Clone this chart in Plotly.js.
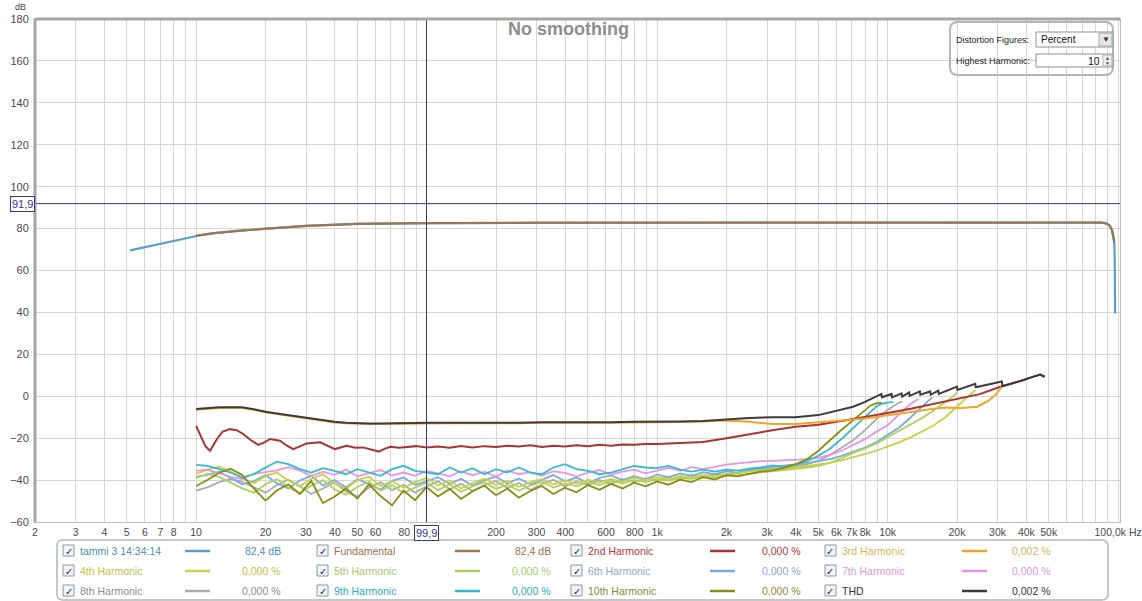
<!DOCTYPE html>
<html>
<head>
<meta charset="utf-8">
<script src="https://cdn.plot.ly/plotly-3.0.1.min.js"></script>
<style>
html,body{margin:0;padding:0;background:#fff;}
#chart{width:1142px;height:601px;}
</style>
</head>
<body>
<div id="chart"></div>
<script>
// ---------------- DATA ----------------
const F_LOW = [10,11.2,12.6,14.1,15.8,17.8,20,22.4,25.1,28.2,31.6,35.5,39.8,44.7,50.1,56.2,63.1,70.8,79.4,89.1,100,112,126,141,158,178,200,224,251,282,316,355,398,447,501,562,631,708,794,891,1000,1120,1260,1410,1580,1780,2000,2240,2510,2820,3160];

const H4_LOW = [-37.0,-35.0,-33.6,-35.8,-39.0,-41.5,-38.0,-36.4,-40.2,-43.0,-39.4,-37.2,-41.6,-44.2,-40.0,-38.4,-42.8,-40.4,-43.6,-41.0,-39.0,-42.6,-40.2,-44.0,-41.4,-39.4,-42.4,-40.6,-43.2,-41.0,-39.6,-42.0,-40.2,-41.8,-39.8,-41.2,-39.4,-40.8,-38.8,-40.0,-38.6,-39.4,-38.0,-38.8,-37.4,-38.2,-37.0,-36.8,-36.0,-35.6,-35.0];
const H5_LOW = [-39.0,-37.0,-38.5,-41.0,-43.8,-46.0,-42.0,-39.6,-43.4,-46.4,-42.6,-40.0,-44.4,-47.0,-43.2,-40.8,-45.0,-42.4,-46.2,-43.6,-41.2,-44.8,-42.0,-45.6,-43.0,-41.0,-44.2,-42.2,-45.0,-42.6,-40.8,-43.6,-41.6,-43.0,-41.0,-42.4,-40.4,-41.6,-40.0,-40.8,-39.6,-40.2,-39.0,-39.4,-38.4,-38.8,-38.0,-37.6,-37.0,-36.6,-36.0];
const H6_LOW = [-38.5,-37.5,-36.0,-38.8,-42.0,-40.5,-37.6,-41.5,-44.0,-40.2,-38.0,-42.6,-40.0,-43.5,-39.6,-41.8,-44.6,-40.4,-38.8,-42.2,-40.6,-38.6,-41.8,-39.4,-42.6,-40.0,-38.4,-41.6,-39.2,-42.0,-39.8,-37.6,-40.6,-38.8,-41.4,-39.0,-37.8,-40.0,-38.2,-39.6,-37.4,-38.6,-36.8,-38.0,-36.2,-37.2,-35.8,-36.6,-35.0,-34.4,-33.8];
const H7_LOW = [-35.6,-35.0,-36.8,-38.5,-39.5,-37.0,-36.2,-35.4,-33.8,-35.5,-38.0,-36.0,-37.5,-35.0,-38.2,-36.6,-35.2,-37.8,-36.4,-38.0,-35.6,-36.8,-38.2,-35.8,-37.6,-36.0,-38.4,-35.4,-37.2,-36.2,-38.0,-35.8,-36.6,-38.2,-36.4,-35.2,-37.4,-36.0,-35.0,-36.8,-35.4,-34.2,-35.6,-33.8,-34.8,-33.6,-32.6,-32.0,-31.4,-31.0,-30.8];
const H8_LOW = [-45.0,-43.5,-41.0,-39.5,-40.8,-43.6,-46.0,-42.4,-39.8,-43.0,-46.6,-44.0,-41.2,-45.4,-48.0,-43.6,-41.0,-44.8,-42.2,-46.0,-43.0,-40.6,-44.4,-41.8,-45.2,-42.6,-40.4,-43.8,-41.4,-44.6,-42.0,-39.8,-43.0,-40.6,-42.4,-40.0,-41.8,-39.6,-41.0,-39.2,-40.4,-38.4,-39.8,-37.6,-38.8,-37.0,-37.8,-36.4,-35.6,-35.0,-34.4];
const H9_LOW = [-32.7,-33.2,-34.8,-36.4,-38.8,-37.2,-34.0,-31.2,-32.4,-34.8,-36.4,-34.3,-35.6,-37.2,-34.8,-36.4,-38.0,-34.8,-33.2,-35.6,-36.4,-37.2,-34.0,-36.4,-34.3,-37.2,-34.8,-36.4,-34.0,-36.4,-37.2,-34.0,-32.4,-34.8,-35.6,-37.2,-36.4,-34.8,-33.2,-34.0,-34.3,-33.2,-35.0,-36.0,-35.0,-36.0,-35.0,-35.5,-34.5,-34.0,-33.0];
const H10_LOW = [-42.8,-40.0,-36.5,-34.6,-37.5,-44.0,-49.8,-45.0,-42.0,-46.6,-40.4,-51.0,-48.0,-44.0,-48.8,-42.0,-47.6,-52.0,-45.0,-49.6,-43.4,-47.8,-44.2,-49.0,-45.4,-42.6,-47.2,-44.0,-48.4,-45.2,-42.8,-46.6,-43.6,-45.8,-42.4,-44.6,-41.8,-44.0,-41.2,-43.0,-40.6,-42.2,-39.8,-41.0,-38.6,-39.8,-37.6,-38.2,-37.0,-36.0,-35.4];

const H4_TAIL_F = [3550,4000,4470,5010,5620,6310,7080,7940,8910,10000,11200,12600,14100,15800,17800,20000,22400,24000];
const H4_TAIL_V = [-34.6,-34.0,-33.4,-32.6,-31.8,-30.6,-29.2,-27.6,-26.0,-24.0,-22.0,-19.6,-17.0,-14.0,-10.0,-4.8,0.2,3.0];
const H5_TAIL_F = [3550,4000,4470,5010,5620,6310,7080,7940,8910,10000,11200,12600,14100,15800,17800,19400,20000];
const H5_TAIL_V = [-35.4,-34.8,-34.0,-33.2,-31.8,-29.6,-27.0,-25.0,-22.6,-19.6,-16.6,-13.6,-10.4,-6.9,-2.8,0.3,1.8];
const H6_TAIL_F = [3550,4000,4470,5010,5620,6310,7080,7940,8910,10000,11200,12600,14100,15600];
const H6_TAIL_V = [-33.2,-32.6,-31.8,-31.0,-30.0,-28.4,-26.6,-24.6,-22.0,-18.4,-15.0,-10.0,-5.0,-0.5];
const H7_TAIL_F = [3550,4000,4470,5010,5620,6310,7080,7940,8910,10000,11200,12600,13600];
const H7_TAIL_V = [-30.6,-30.2,-30.0,-29.4,-28.0,-26.0,-23.4,-20.6,-17.0,-13.8,-8.8,-3.6,-1.3];
const H8_TAIL_F = [3550,4000,4470,5010,5620,6310,7080,7940,8910,10000,11200,11600];
const H8_TAIL_V = [-34.2,-33.4,-32.4,-30.8,-28.0,-24.6,-21.0,-16.4,-11.0,-6.6,-3.0,-2.5];
const H9_TAIL_F = [3550,4000,4470,5010,5620,6310,7080,7940,8910,9440,10000,10600];
const H9_TAIL_V = [-33.6,-32.6,-31.0,-28.4,-25.0,-20.4,-15.2,-10.0,-5.0,-3.6,-3.0,-2.8];
const H10_TAIL_F = [3550,4000,4470,5010,5620,6310,7080,7940,8410,8910,9440];
const H10_TAIL_V = [-34.2,-32.4,-30.0,-26.0,-21.0,-16.0,-11.5,-6.8,-4.5,-3.4,-3.2];

const H2_F = [10,10.5,11,11.5,12.3,13,14,15,16,17.3,18.6,19.8,20.9,23.1,24.7,26.4,28.3,30.2,34.5,37,40,45,49,53,57,62,66,69.6,76,82,90,100,112,126,141,158,178,200,224,251,282,316,355,398,447,501,562,631,708,794,891,1000,1260,1580,2000,2510,3160,3980,5010,6310,7940,10000,12600,15800,20000,25100,31300,34000,38000,42000,45900,48000];
const H2_V = [-14.1,-19.0,-24.0,-26.0,-20.5,-17.0,-15.7,-16.2,-18.0,-21.0,-23.2,-22.0,-20.4,-21.2,-23.5,-25.2,-24.0,-22.5,-22.0,-23.5,-25.2,-23.6,-24.6,-24.4,-25.2,-26.4,-25.0,-24.1,-24.6,-24.4,-23.8,-24.4,-24.0,-24.6,-23.8,-24.4,-23.8,-24.2,-23.6,-24.0,-23.4,-24.2,-23.6,-24.0,-23.4,-23.8,-23.2,-23.6,-23.0,-23.2,-22.8,-22.8,-22.4,-21.8,-20.0,-18.0,-16.2,-14.6,-13.6,-11.8,-10.0,-8.0,-6.0,-3.8,-1.4,1.0,4.8,5.8,7.4,9.0,10.3,9.3];

const H3_F = [10,11.2,12.6,14.1,15.8,17.8,20,22.4,25.1,28.2,31.6,35.5,39.8,44.7,50.1,56.2,63.1,70.8,79.4,89.1,100,126,158,200,251,316,398,501,631,794,1000,1260,1580,2000,2510,3160,3980,5010,6310,7940,10000,12600,13800,15800,18000,20900,24500,27400,29500,31300];
const H3_V = [-6.4,-5.9,-5.6,-5.5,-5.6,-6.5,-7.7,-8.5,-9.3,-10.2,-11.1,-11.9,-12.5,-12.9,-13.2,-13.3,-13.3,-13.3,-13.2,-13.1,-13.0,-12.9,-13.0,-12.8,-12.9,-12.7,-12.8,-12.6,-12.7,-12.5,-12.5,-12.3,-12.1,-11.6,-12.2,-13.2,-13.3,-12.6,-11.6,-10.6,-9.2,-7.6,-6.9,-6.0,-5.4,-5.6,-5.0,-2.1,0.8,4.6];

const THD_F = [10,11.2,12.6,14.1,15.8,17.8,20,22.4,25.1,28.2,31.6,35.5,39.8,44.7,50.1,56.2,63.1,70.8,79.4,89.1,100,126,158,200,251,316,398,501,631,794,1000,1260,1580,2000,2510,3160,3980,5010,5800,6310,7080,7940,8410,8910,9400,9450,10400,10450,11500,11560,12400,12460,13800,13870,15300,15380,16600,16680,20000,20100,24000,24120,31300,31500,34000,38000,42000,45900,48000];
const THD_V = [-6.1,-5.6,-5.3,-5.2,-5.3,-6.2,-7.4,-8.2,-9.0,-9.9,-10.8,-11.6,-12.2,-12.6,-12.9,-13.0,-13.0,-13.0,-12.9,-12.8,-12.7,-12.6,-12.7,-12.5,-12.6,-12.4,-12.5,-12.3,-12.4,-12.2,-12.2,-12.0,-11.8,-11.0,-10.4,-10.0,-10.0,-9.0,-7.2,-6.4,-5.0,-2.8,-1.4,-0.2,1.1,-0.5,1.1,-0.5,1.4,-0.2,1.8,0.2,2.3,0.7,2.3,0.7,2.7,1.1,4.6,3.0,5.9,4.3,7.0,4.8,5.8,7.4,9.0,10.3,9.3];

const MEAS_F = [5.17,6,7,8,9,10.4,12,15,20,30,50,100,300,1000,3000,10000,30000,60000,85000,89600,92000,94000,95500,96300,96800,97000];
const MEAS_V = [69.6,71.2,72.8,74.2,75.5,76.8,77.8,78.9,80.0,81.3,82.2,82.6,82.8,82.9,82.9,82.9,82.9,82.9,82.8,82.3,81.3,79.5,76.0,73.0,60.0,39.5];
const FUND_F = [10,12,15,20,30,50,100,300,1000,3000,10000,30000,60000,85000,89600,92000,94000,95500,96300];
const FUND_V = [76.6,77.8,78.9,80.0,81.3,82.2,82.6,82.8,82.9,82.9,82.9,82.9,82.9,82.8,82.3,81.3,79.5,76.0,73.6];

const CURSOR_F = 99.9;
const CURSOR_DB = 91.9;
const CURSOR_F_TEXT = '99,9';
const CURSOR_DB_TEXT = '91,9';

const LEGEND_NAMES = ['tammi 3 14:34:14','Fundamental','2nd Harmonic','3rd Harmonic','4th Harmonic','5th Harmonic','6th Harmonic','7th Harmonic','8th Harmonic','9th Harmonic','10th Harmonic','THD'];
const LEGEND_VALUES = ['82,4 dB','82,4 dB','0,000 %','0,002 %','0,000 %','0,000 %','0,000 %','0,000 %','0,000 %','0,000 %','0,000 %','0,002 %'];
const LINE_COLORS = ['#5b9fc2','#9b7653','#a83434','#f0a428','#cccf45','#a8d25c','#7eaae0','#e894e6','#ababab','#34bcc6','#8c8c14','#3c3c3c'];
const TEXT_COLORS = ['#4a8fb5','#9a6e4c','#b03838','#d8b458','#c4c040','#a4c870','#88a8d2','#d898d8','#8c8c8c','#2aaab8','#8a8a30','#333333'];

const Y_TICKS = [-60,-40,-20,0,20,40,60,80,100,120,140,160,180];
const X_LABEL_VALS = [2,3,4,5,6,7,8,10,20,30,40,50,60,80,200,300,400,600,800,1000,2000,3000,4000,5000,6000,7000,8000,10000,20000,30000,40000,50000,100000];
const X_LABEL_TEXT = ['2','3','4','5','6','7','8','10','20','30','40','50','60','80','200','300','400','600','800','1k','2k','3k','4k','5k','6k','7k','8k','10k','20k','30k','40k','50k','100,0k Hz'];

// ---------------- GEOMETRY ----------------
const W = 1142, H = 601, ML = 35, MR = 22, MT = 19, MB = 79;
const PW = W - ML - MR, PH = H - MT - MB;
const px = v => (v - ML) / PW;
const py = v => (H - MB - v) / PH;
const FONT = '"Liberation Sans", Arial, sans-serif';

// ticks: gridline at every 1..9 multiple
const tickvals = [], ticktext = [];
for (let d = 0; d <= 5; d++) {
  for (let m = 1; m <= 9; m++) {
    const v = m * Math.pow(10, d);
    if (v < 2 || v > 100000) continue;
    tickvals.push(v);
    const idx = X_LABEL_VALS.indexOf(v);
    ticktext.push(idx >= 0 ? X_LABEL_TEXT[idx] : '');
  }
}

function line(x, y, color, w) {
  return {type:'scatter', mode:'lines', x:x, y:y, line:{color:color, width:w||1.8}, hoverinfo:'skip', showlegend:false};
}

const traces = [
  line(F_LOW.concat(H8_TAIL_F), H8_LOW.concat(H8_TAIL_V), LINE_COLORS[8]),
  line(F_LOW.concat(H6_TAIL_F), H6_LOW.concat(H6_TAIL_V), LINE_COLORS[6]),
  line(F_LOW.concat(H5_TAIL_F), H5_LOW.concat(H5_TAIL_V), LINE_COLORS[5]),
  line(F_LOW.concat(H4_TAIL_F), H4_LOW.concat(H4_TAIL_V), LINE_COLORS[4]),
  line(F_LOW.concat(H7_TAIL_F), H7_LOW.concat(H7_TAIL_V), LINE_COLORS[7]),
  line(F_LOW.concat(H9_TAIL_F), H9_LOW.concat(H9_TAIL_V), LINE_COLORS[9]),
  line(F_LOW.concat(H10_TAIL_F), H10_LOW.concat(H10_TAIL_V), LINE_COLORS[10]),
  line(H2_F, H2_V, LINE_COLORS[2], 2),
  line(H3_F, H3_V, LINE_COLORS[3], 2),
  line(THD_F, THD_V, LINE_COLORS[11], 2),
  line(MEAS_F, MEAS_V, LINE_COLORS[0], 2.2),
  line(FUND_F, FUND_V, LINE_COLORS[1], 2.2),
  line([CURSOR_F, CURSOR_F], [-60, 180], '#34349a', 1),
  line([2, 110000], [CURSOR_DB, CURSOR_DB], '#34349a', 1)
];

const shapes = [];
const annotations = [];

// plot frame: thick top and left borders
shapes.push({type:'line', xref:'paper', yref:'paper', x0:0, x1:1, y0:1, y1:1, line:{color:'#a6a6a6', width:3}});
shapes.push({type:'line', xref:'paper', yref:'paper', x0:0, x1:0, y0:0, y1:1, line:{color:'#a6a6a6', width:3}});

function roundRectPath(x0, y0, x1, y1, r) {
  const rx = r / PW, ry = r / PH;
  const X0 = px(x0), X1 = px(x1), Y0 = py(y0), Y1 = py(y1);
  return `M ${X0+rx},${Y0} L ${X1-rx},${Y0} Q ${X1},${Y0} ${X1},${Y0-ry} L ${X1},${Y1+ry} Q ${X1},${Y1} ${X1-rx},${Y1} L ${X0+rx},${Y1} Q ${X0},${Y1} ${X0},${Y1+ry} L ${X0},${Y0-ry} Q ${X0},${Y0} ${X0+rx},${Y0} Z`;
}
function rect(x0, y0, x1, y1, stroke, fill, w) {
  shapes.push({type:'rect', xref:'paper', yref:'paper', x0:px(x0), x1:px(x1), y0:py(y1), y1:py(y0),
    line:{color:stroke, width:w===undefined?1:w}, fillcolor:fill||'rgba(0,0,0,0)'});
}
function text(x, y, t, opts) {
  opts = opts || {};
  annotations.push({xref:'paper', yref:'paper', x:px(x), y:py(y), text:t, showarrow:false,
    xanchor:opts.xa||'left', yanchor:'middle', borderpad:0,
    font:{family:FONT, size:opts.size||10.5, color:opts.color||'#222'}});
}

// title and unit
text(568, 29, '<b>No smoothing</b>', {xa:'center', size:18, color:'#8e8e8e'});
text(20, 7, 'dB', {xa:'center', size:9, color:'#444'});

// cursor labels
annotations.push({xref:'x', yref:'paper', x:Math.log10(CURSOR_F), y:py(533), text:CURSOR_F_TEXT, showarrow:false,
  xanchor:'center', yanchor:'middle', bgcolor:'#ffffff', bordercolor:'#34349a', borderwidth:1, borderpad:1,
  font:{family:FONT, size:11, color:'#34349a'}});
annotations.push({xref:'paper', yref:'y', x:px(22), y:CURSOR_DB, text:CURSOR_DB_TEXT, showarrow:false,
  xanchor:'center', yanchor:'middle', bgcolor:'#ffffff', bordercolor:'#34349a', borderwidth:1, borderpad:1,
  font:{family:FONT, size:11, color:'#34349a'}});

// distortion control box
shapes.push({type:'path', xref:'paper', yref:'paper', path:roundRectPath(950, 22, 1113, 75, 8), line:{color:'#b4b4b4', width:2}});
text(955, 39.5, 'Distortion Figures:', {size:9, color:'#222'});
rect(1036, 32, 1113, 47, '#8f8f8f', '#ffffff', 1);
text(1040, 39.5, 'Percent', {size:10, color:'#111'});
rect(1099, 33, 1112, 46, '#a8a8a8', '#e6e6e6', 1);
text(1105.5, 39.5, '▼', {xa:'center', size:8, color:'#333'});
text(955, 60.5, 'Highest Harmonic:', {size:9, color:'#222'});
rect(1036, 54, 1113, 67, '#8f8f8f', '#ffffff', 1);
text(1101, 60.5, '10', {xa:'right', size:10.5, color:'#111'});
rect(1103, 55, 1112, 66, '#b0b0b0', '#eeeeee', 1);
text(1107.5, 57.7, '▲', {xa:'center', size:5, color:'#444'});
text(1107.5, 63.3, '▼', {xa:'center', size:5, color:'#444'});

// legend panel
shapes.push({type:'path', xref:'paper', yref:'paper', path:roundRectPath(57, 540, 1108, 600, 6), line:{color:'#b4b4b4', width:1.5}});
const CB_X = [68, 322, 576, 830];
const SAMPLE_X = [185, 455, 710, 962];
const VAL_RIGHT = [282, 552, 802, 1052];
const ROW_Y = [551, 571, 591];
LEGEND_NAMES.forEach((name, i) => {
  const r = Math.floor(i / 4), c = i % 4;
  const y = ROW_Y[r], cx = CB_X[c];
  rect(cx - 5, y - 6, cx + 6, y + 5, '#8796ad', '#f3f5f9', 1);
  text(cx + 0.5, y, '✓', {xa:'center', size:10, color:'#1e2a44'});
  text(cx + 11, y, name, {color:TEXT_COLORS[i]});
  shapes.push({type:'line', xref:'paper', yref:'paper', x0:px(SAMPLE_X[c]), x1:px(SAMPLE_X[c] + 25), y0:py(y), y1:py(y),
    line:{color:LINE_COLORS[i], width:2.5}});
  text(VAL_RIGHT[c], y, LEGEND_VALUES[i], {xa:'right', color:TEXT_COLORS[i]});
});

const layout = {
  width: W, height: H,
  margin: {l:ML, r:MR, t:MT, b:MB, pad:0},
  paper_bgcolor:'#ffffff', plot_bgcolor:'#ffffff',
  showlegend:false,
  xaxis: {
    type:'log', range:[Math.log10(2), Math.log10(2) + PW / 230.5],
    tickmode:'array', tickvals:tickvals, ticktext:ticktext, tickangle:0,
    showgrid:true, gridcolor:'#d6d6d6', gridwidth:1,
    ticks:'', zeroline:false, showline:true, linecolor:'#bdbdbd', linewidth:1, mirror:true,
    tickfont:{family:FONT, size:10.5, color:'#4a4a4a'}, automargin:false
  },
  yaxis: {
    range:[-60, 180], tickmode:'array', tickvals:Y_TICKS,
    showgrid:true, gridcolor:'#d6d6d6', gridwidth:1,
    ticks:'', zeroline:false, showline:true, linecolor:'#bdbdbd', linewidth:1, mirror:true,
    tickfont:{family:FONT, size:11, color:'#4a4a4a'}, automargin:false, ticklabelstandoff:3
  },
  shapes: shapes,
  annotations: annotations
};

Plotly.newPlot('chart', traces, layout, {displayModeBar:false, staticPlot:true});
</script>
</body>
</html>
